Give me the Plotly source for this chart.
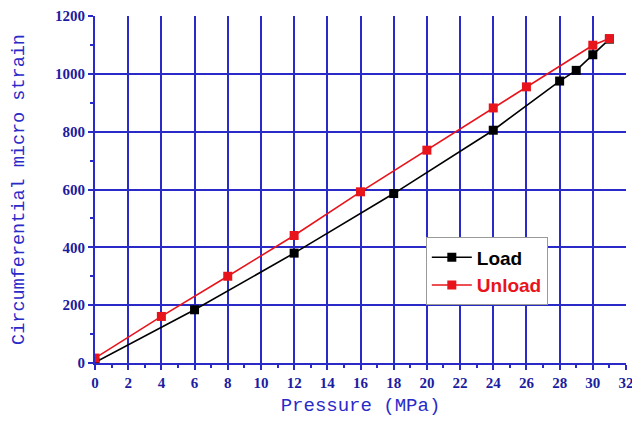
import plotly.graph_objects as go

load_x = [0, 6, 12, 18, 24, 28, 29, 30, 31]
load_y = [2, 184, 380, 586, 805, 975, 1012, 1066, 1120]
unload_x = [0, 4, 8, 12, 16, 20, 24, 26, 30, 31]
unload_y = [17, 161, 300, 441, 592, 736, 882, 955, 1099, 1122]
x_grid = list(range(2, 31, 2))
y_grid = list(range(200, 1001, 200))

blue = "#2a2ac8"
tickc = "#1c1ca0"
red = "#e8141c"

fig = go.Figure()
# invisible trace holding the grid-only axes
fig.add_trace(go.Scatter(x=[0, 32], y=[0, 1200], mode="none", showlegend=False,
                         hoverinfo="skip", xaxis="x", yaxis="y"))
fig.add_trace(go.Scatter(x=load_x, y=load_y, name="Load", mode="lines+markers",
                         xaxis="x2", yaxis="y2",
                         line=dict(color="black", width=1.6),
                         marker=dict(symbol="square", size=9, color="black")))
fig.add_trace(go.Scatter(x=unload_x, y=unload_y,
                         name="<span style='color:%s'>Unload</span>" % red,
                         mode="lines+markers", xaxis="x2", yaxis="y2",
                         line=dict(color=red, width=1.6),
                         marker=dict(symbol="square", size=9, color=red)))

tf = dict(family="Liberation Serif", size=15, color=tickc, weight="bold")
fig.update_layout(
    width=632, height=416,
    margin=dict(l=87, r=14, t=8, b=61),
    paper_bgcolor="white", plot_bgcolor="white",
    legend=dict(x=0.623, y=0.362, xanchor="left", yanchor="top",
                bordercolor="#9a9a9a", borderwidth=1, bgcolor="white",
                font=dict(family="Liberation Sans", size=19, color="black", weight="bold"),
                tracegroupgap=0, itemwidth=40),
    showlegend=True,
    xaxis=dict(range=[0, 32], tickvals=x_grid, showticklabels=False, ticks="",
               showgrid=True, gridcolor=blue, gridwidth=1.5, showline=False,
               zeroline=False, automargin=False),
    yaxis=dict(range=[0, 1200], tickvals=y_grid, showticklabels=False, ticks="",
               showgrid=True, gridcolor=blue, gridwidth=1.5, showline=False,
               zeroline=False, automargin=False),
    xaxis2=dict(overlaying="x", anchor="y2", range=[0, 32], dtick=2, tick0=0,
                showgrid=False, showline=True, linecolor=blue, linewidth=2,
                ticks="outside", tickcolor=blue, ticklen=5, tickwidth=2,
                minor=dict(dtick=1, ticks="outside", ticklen=3, tickcolor=blue,
                           tickwidth=2, showgrid=False),
                tickfont=tf, zeroline=False, automargin=False,
                title=dict(text="Pressure (MPa)", standoff=8,
                           font=dict(family="Liberation Mono", size=19, color=blue))),
    yaxis2=dict(overlaying="y", anchor="x2", side="left", range=[0, 1200], dtick=200, tick0=0,
                showgrid=False, showline=True, linecolor=blue, linewidth=2,
                ticks="outside", tickcolor=blue, ticklen=5, tickwidth=2,
                minor=dict(dtick=100, ticks="outside", ticklen=3, tickcolor=blue,
                           tickwidth=2, showgrid=False),
                tickfont=tf, zeroline=False, automargin=False,
                title=dict(text="Circumferential micro strain", standoff=26,
                           font=dict(family="Liberation Mono", size=18.5, color=blue))),
)

fig.write_html("out.html")
